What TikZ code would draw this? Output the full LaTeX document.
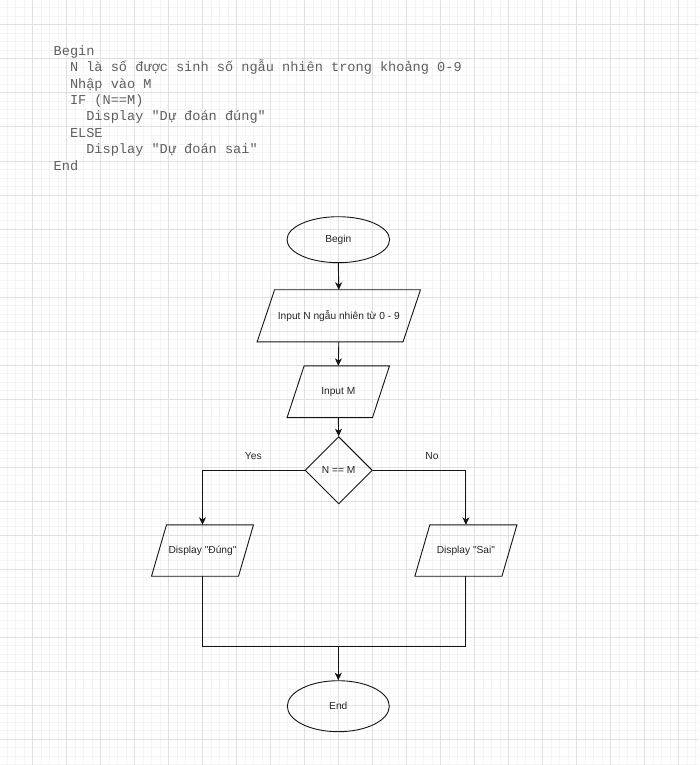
\documentclass[tikz,border=0pt]{standalone}
\usepackage{fontspec}
\setmainfont{Liberation Sans}[Ligatures=TeXOff]
\newfontfamily\codefont{Liberation Mono}[Ligatures=TeXOff]
\usetikzlibrary{shapes.geometric,arrows.meta}
\definecolor{gridminor}{RGB}{244,244,244}
\definecolor{gridmajor}{RGB}{224,224,224}
\definecolor{codegray}{RGB}{95,95,95}
\definecolor{ink}{RGB}{20,20,20}
\newcommand\drawpgram[2]{\draw[conn] ([xshift=#2]#1.north west) -- (#1.north east) -- ([xshift=-#2]#1.south east) -- (#1.south west) -- cycle;}
\begin{document}
\begin{tikzpicture}[x=1pt,y=-1pt,
  conn/.style={draw=ink,line width=0.9pt},
  arr/.style={conn,-{Stealth[length=7.5pt,width=7pt,inset=2.2pt]}},
  flowtext/.style={font=\fontsize{10.2}{12}\selectfont,text=black!85},
  term/.style={ellipse,draw=ink,line width=0.9pt,inner sep=0,flowtext},
  iobox/.style={rectangle,inner sep=0,flowtext},
  decision/.style={diamond,aspect=1,draw=ink,line width=0.9pt,inner sep=0,flowtext},
  codeline/.style={anchor=base west,inner sep=0,font=\codefont\fontsize{13.6}{16}\selectfont,text=codegray},
  lbl/.style={inner sep=0,flowtext}
]
\useasboundingbox (0,0) rectangle (699,765);
\fill[white] (0,0) rectangle (699,765);
% grid
\foreach \i in {0,...,82} \draw[gridminor,line width=1pt] ({-1.3+8.5*\i},0) -- ({-1.3+8.5*\i},765);
\foreach \i in {0,...,90} \draw[gridminor,line width=1pt] (0,{-0.5+8.5*\i}) -- (699,{-0.5+8.5*\i});
\foreach \i in {1,...,20} \draw[gridmajor,line width=1pt] ({-1.3+34*\i},0) -- ({-1.3+34*\i},765);
\foreach \i in {1,...,22} \draw[gridmajor,line width=1pt] (0,{-9+34*\i}) -- (699,{-9+34*\i});
% pseudocode
\node[codeline] (c1) at (53.5,55.5) {Begin};
\node[codeline] (c2) at (69.8,71.9) {N là số được sinh số ngẫu nhiên trong khoảng 0-9};
\node[codeline] (c3) at (69.8,88.2) {Nhập vào M};
\node[codeline] (c4) at (69.8,104.6) {IF (N==M)};
\node[codeline] (c5) at (86.1,121) {Display "Dự đoán đúng"};
\node[codeline] (c6) at (69.8,137.3) {ELSE};
\node[codeline] (c7) at (86.1,153.7) {Display "Dự đoán sai"};
\node[codeline] (c8) at (53.5,170) {End};
% flowchart
\node[term,minimum width=102.6pt,minimum height=46pt] (begin) at (338.3,239.7) {Begin};
\node[iobox,minimum width=163pt,minimum height=51.7pt] (in1) at (338.8,315.8) {Input N ngẫu nhiên từ 0 - 9};
\drawpgram{in1}{17.5pt}
\node[iobox,minimum width=102pt,minimum height=51.3pt] (in2) at (338.3,391.7) {Input M};
\drawpgram{in2}{17pt}
\node[decision,minimum width=67.3pt,minimum height=67.3pt] (dec) at (338.7,470.3) {N == M};
\node[iobox,minimum width=101.6pt,minimum height=51pt] (d1) at (202.5,550.5) {Display "Đúng"};
\drawpgram{d1}{15pt}
\node[iobox,minimum width=101.7pt,minimum height=51pt] (d2) at (465.9,550.5) {Display "Sai"};
\drawpgram{d2}{15pt}
\node[term,minimum width=102pt,minimum height=51pt] (end) at (338.3,706.2) {End};
\coordinate (j) at (338.3,646.7);
% connectors
\draw[arr] (begin.south) -- (in1.north);
\draw[arr] (in1.south) -- (in2.north);
\draw[arr] (in2.south) -- (dec.north);
\draw[arr] (dec.west) -| (d1.north);
\draw[arr] (dec.east) -| (d2.north);
\draw[conn] (d1.south) |- (j) -| (d2.south);
\draw[arr] (j) -- (end.north);
\node[lbl] (yes) at (253.3,455.7) {Yes};
\node[lbl] (no) at (432,455.7) {No};
\end{tikzpicture}
\end{document}
